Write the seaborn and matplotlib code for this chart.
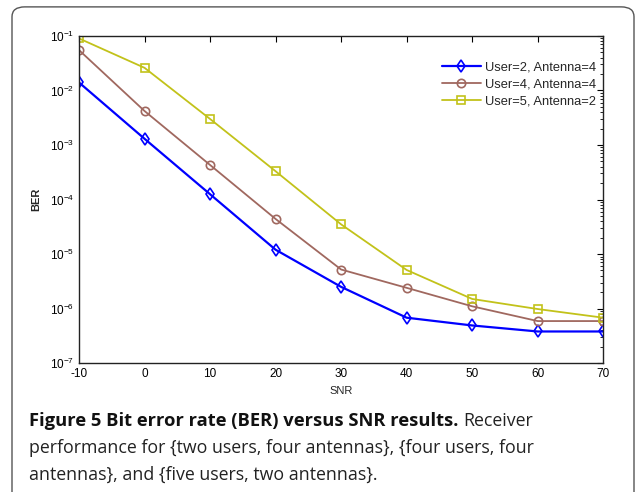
import numpy as np
import pandas as pd
import matplotlib
matplotlib.use('Agg')
import matplotlib.pyplot as plt
import seaborn as sns
from matplotlib.patches import FancyBboxPatch

# values (log scale)
snr = [-10, 0, 10, 20, 30, 40, 50, 60, 70]
ber_u2_a4 = [1.4e-2, 1.3e-3, 1.25e-4, 1.2e-5, 2.5e-6, 6.8e-7, 4.9e-7, 3.8e-7, 3.8e-7]
ber_u4_a4 = [5.5e-2, 4.2e-3, 4.3e-4, 4.4e-5, 5.2e-6, 2.4e-6, 1.1e-6, 5.9e-7, 5.9e-7]
ber_u5_a2 = [9.0e-2, 2.6e-2, 3.0e-3, 3.3e-4, 3.5e-5, 5.1e-6, 1.5e-6, 9.8e-7, 6.8e-7]
labels = ['User=2, Antenna=4', 'User=4, Antenna=4', 'User=5, Antenna=2']
colors = ['#0000ff', '#a0685f', '#c2c21a']
markers = ['d', 'o', 's']
widths = [1.6, 1.3, 1.3]

df = pd.DataFrame({'SNR': snr, labels[0]: ber_u2_a4, labels[1]: ber_u4_a4, labels[2]: ber_u5_a2})
long = df.melt(id_vars='SNR', var_name='case', value_name='BER')

sns.set_style('white')
plt.rcParams['font.family'] = ['Liberation Sans', 'DejaVu Sans']
plt.rcParams['mathtext.default'] = 'regular'
plt.rcParams['axes.unicode_minus'] = False

fig = plt.figure(figsize=(6.37, 4.92), dpi=100)
ax = fig.add_axes([0.124, 0.262, 0.823, 0.665])

for lab, c, m, w in zip(labels, colors, markers, widths):
    sub = long[long['case'] == lab]
    sns.lineplot(data=sub, x='SNR', y='BER', ax=ax, color=c, marker=m, label=lab,
                 markersize=6, markerfacecolor='none', markeredgecolor=c,
                 markeredgewidth=1.2, linewidth=w)

ax.set_yscale('log')
ax.set_xlim(-10, 70)
ax.set_ylim(1e-7, 1e-1)
ax.set_xticks(snr)
ax.set_xlabel('SNR', fontsize=8, labelpad=4)
ax.set_ylabel('BER', fontsize=8, fontweight='bold', labelpad=6)
ax.tick_params(axis='both', which='both', direction='in', top=True, right=True,
               labelsize=8.5, colors='black')
ax.tick_params(which='major', length=4, width=0.8)
ax.tick_params(which='minor', length=2.5, width=0.6)
ax.tick_params(axis='x', which='minor', bottom=False, top=False)
ax.yaxis.set_minor_locator(matplotlib.ticker.LogLocator(base=10, subs=np.arange(2, 10)))
ax.yaxis.set_minor_formatter(matplotlib.ticker.NullFormatter())
for s in ax.spines.values():
    s.set_color('#222222')
    s.set_linewidth(1.0)

leg = ax.legend(loc='upper right', bbox_to_anchor=(1.008, 0.958), frameon=False, fontsize=9.3,
                handlelength=3.0, labelspacing=0.38, handletextpad=0.3)

# rounded frame around the figure panel
frame = FancyBboxPatch((12 / 637, -0.05), 622 / 637, 1.036, transform=fig.transFigure,
                       boxstyle='round,pad=0,rounding_size=0.02', fill=False,
                       edgecolor='#555555', linewidth=1.0, clip_on=False)
fig.patches.append(frame)

# caption
cap_font = ['Open Sans', 'DejaVu Sans']
fig.canvas.draw()
renderer = fig.canvas.get_renderer()
t1 = fig.text(29 / 637, 1 - 426 / 492, 'Figure 5 Bit error rate (BER) versus SNR results.',
              fontsize=13.2, fontweight='bold', family=cap_font, va='baseline', color='#111111')
bb = t1.get_window_extent(renderer).transformed(fig.transFigure.inverted())
fig.text(bb.x1 + 5 / 637, 1 - 426 / 492, 'Receiver', fontsize=12.8, family=cap_font,
         va='baseline', color='#222222')
fig.text(29 / 637, 1 - 453 / 492, 'performance for {two users, four antennas}, {four users, four',
         fontsize=12.8, family=cap_font, va='baseline', color='#222222')
fig.text(29 / 637, 1 - 480 / 492, 'antennas}, and {five users, two antennas}.',
         fontsize=12.8, family=cap_font, va='baseline', color='#222222')

fig.savefig('out.png', dpi=100)
